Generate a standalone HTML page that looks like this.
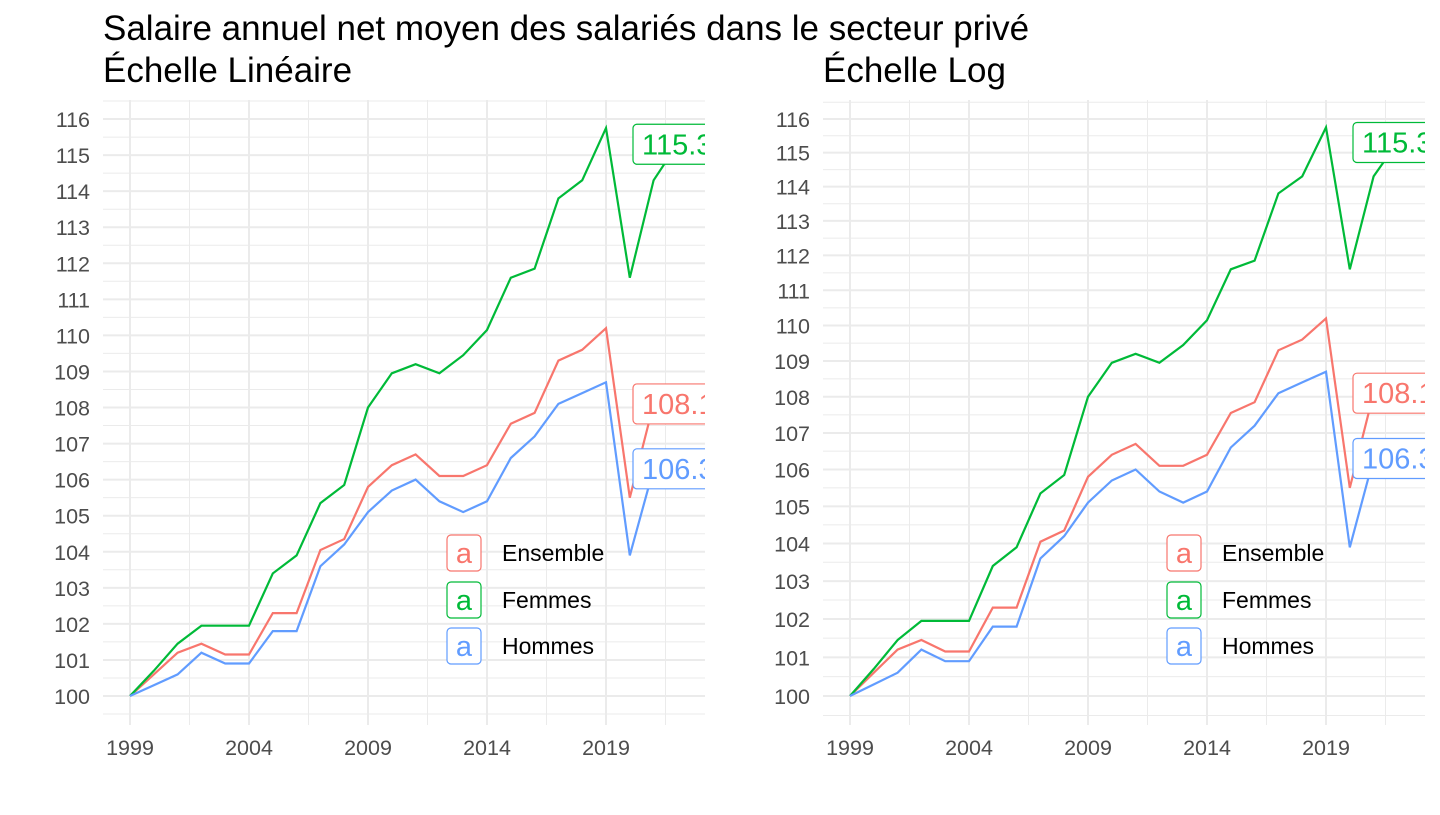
<!DOCTYPE html>
<html><head><meta charset="utf-8"><style>
body{margin:0;background:#fff;width:1440px;height:810px;overflow:hidden}
svg text{font-family:"Liberation Sans",sans-serif}
</style></head><body>
<svg id="s" width="1440" height="810" xmlns="http://www.w3.org/2000/svg">
<text x="103" y="40" font-size="35" fill="#000">Salaire annuel net moyen des salariés dans le secteur privé</text>
<text x="103" y="82" font-size="35" fill="#000">Échelle Linéaire</text>
<text x="823" y="82" font-size="35" fill="#000">Échelle Log</text>
</svg>
<script>
const S=document.getElementById('s');const NS='http://www.w3.org/2000/svg';
function el(t,a,txt){const e=document.createElementNS(NS,t);for(const k in a)e.setAttribute(k,a[k]);if(txt!=null)e.textContent=txt;S.appendChild(e);return e;}
const E=[100,100.6,101.2,101.45,101.15,101.15,102.3,102.3,104.05,104.35,105.8,106.4,106.7,106.1,106.1,106.4,107.55,107.85,109.3,109.6,110.2,105.5,108.1];
const F=[100,100.7,101.45,101.95,101.95,101.95,103.4,103.9,105.35,105.85,108,108.95,109.2,108.95,109.45,110.15,111.6,111.85,113.8,114.3,115.75,111.6,114.3,115.3];
const H=[100,100.3,100.6,101.2,100.9,100.9,101.8,101.8,103.6,104.2,105.1,105.7,106.0,105.4,105.1,105.4,106.6,107.2,108.1,108.4,108.7,103.9,106.3];
function panel(x0,log){
 const L=x0-27,R=x0+575;
 const X=y=>x0+(y-1999)*23.8;
 const Y=v=>log?696-(Math.log(v/100))/(Math.log(1.16))*577:696-(v-100)*36.06;
 const id='c'+x0;
 const cp=el('clipPath',{id:id});const r=document.createElementNS(NS,'rect');r.setAttribute('x',L);r.setAttribute('y',95);r.setAttribute('width',R-L);r.setAttribute('height',635);cp.appendChild(r);
 for(let v=99.5;v<=116.5;v+=0.5){const y=Y(v);const maj=Number.isInteger(v);el('line',{x1:L,x2:R,y1:y,y2:y,stroke:'#ebebeb','stroke-width':maj?2:1});}
 for(let yr=1996.5;yr<=2024;yr+=2.5){const x=X(yr);if(x<L||x>R)continue;const maj=((yr-1999)%5)==0;el('line',{x1:x,x2:x,y1:100,y2:725,stroke:'#ebebeb','stroke-width':maj?2:1});}
 for(let v=100;v<=116;v++)el('text',{x:x0-40,y:Y(v)+8,'font-size':21.5,fill:'#4d4d4d','text-anchor':'end'},v);
 for(let yr=1999;yr<=2019;yr+=5)el('text',{x:X(yr),y:755,'font-size':21.5,fill:'#4d4d4d','text-anchor':'middle'},yr);
 const g=el('g',{'clip-path':'url(#'+id+')'});
 function line(d,c){const p=d.map((v,i)=>X(1999+i).toFixed(1)+','+Y(v).toFixed(1)).join(' ');const e=document.createElementNS(NS,'polyline');e.setAttribute('points',p);e.setAttribute('fill','none');e.setAttribute('stroke',c);e.setAttribute('stroke-width',2.2);g.appendChild(e);}
 line(E,'#f8766d');line(F,'#00ba38');line(H,'#619cff');
 function lab(v,t,c){const y=Y(v);const b=document.createElementNS(NS,'rect');for(const [k,val] of Object.entries({x:x0+503,y:y-20,width:110,height:40,rx:4,fill:'#fff',stroke:c,'stroke-width':1.2}))b.setAttribute(k,val);g.appendChild(b);const tx=document.createElementNS(NS,'text');tx.setAttribute('x',x0+512);tx.setAttribute('y',y+10);tx.setAttribute('font-size',29);tx.setAttribute('fill',c);tx.setAttribute('font-family','Liberation Sans');tx.textContent=t;g.appendChild(tx);}
 lab(115.3,'115.3','#00ba38');lab(108.1,'108.1','#f8766d');lab(106.3,'106.3','#619cff');
 [['Ensemble','#f8766d',553],['Femmes','#00ba38',600],['Hommes','#619cff',646]].forEach(([n,c,y])=>{
  el('rect',{x:x0+317,y:y-18,width:34,height:36,rx:4,fill:'#fff',stroke:c,'stroke-width':1.2});
  el('text',{x:x0+334,y:y+10,'font-size':29,fill:c,'text-anchor':'middle'},'a');
  el('text',{x:x0+372,y:y+8,'font-size':23,fill:'#000'},n);
 });
}
panel(130,false);panel(850,true);
</script>
</body></html>
